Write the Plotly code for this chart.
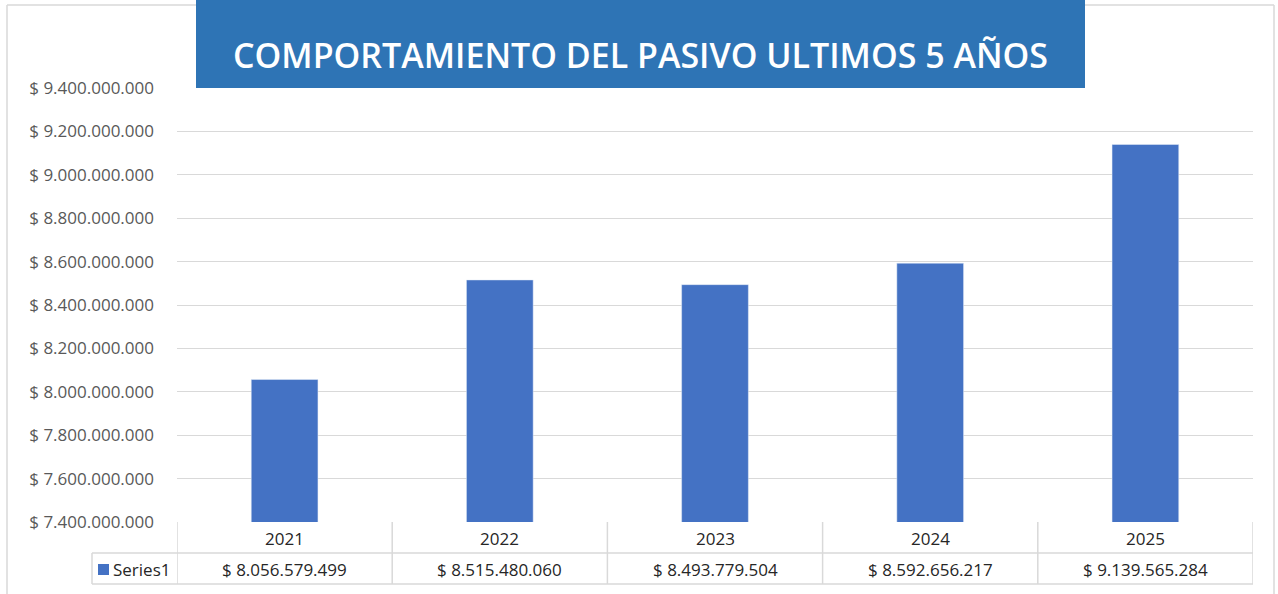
import plotly.graph_objects as go

# datos
years = ["2021", "2022", "2023", "2024", "2025"]
pasivo = [8056579499, 8515480060, 8493779504, 8592656217, 9139565284]
serie = "Series1"
titulo = "COMPORTAMIENTO DEL PASIVO ULTIMOS 5 AÑOS"
y_ticks = [7400000000, 7600000000, 7800000000, 8000000000, 8200000000, 8400000000,
           8600000000, 8800000000, 9000000000, 9200000000, 9400000000]


def pesos(v):
    return "$ " + f"{v:,}".replace(",", ".")


W, H = 1278, 594
L, R, T, B = 177, 25, 88, 72
PW, PH = W - L - R, H - T - B

def px(p):  # pixel x -> paper
    return (p - L) / PW

def py(p):  # pixel y -> paper
    return (H - B - p) / PH

BLUE = "#4472C4"
GRID = "#D9D9D9"
TXT = "#262626"
FS = 17

fig = go.Figure(go.Bar(x=years, y=pasivo, name=serie, marker_color=BLUE,
                       width=0.31, showlegend=False))

shapes = []
annots = []

# marco exterior
for x0, y0, x1, y1 in [(7, 5, 7, 594), (7, 5, 1274, 5), (1274, 5, 1274, 594)]:
    shapes.append(dict(type="line", xref="paper", yref="paper", x0=px(x0), x1=px(x1),
                       y0=py(y0), y1=py(y1), line=dict(color=GRID, width=1.5)))

# caja del titulo
shapes.append(dict(type="rect", xref="paper", yref="paper", x0=px(196), x1=px(1085),
                   y0=py(88), y1=py(-2), fillcolor="#2E74B5", line_width=0, layer="above"))
annots.append(dict(text=titulo, xref="paper", yref="paper", x=px(640.5), y=py(55),
                   showarrow=False,
                   font=dict(family="Open Sans", size=34, color="white", weight=600),
                   xanchor="center", yanchor="middle"))

# tabla de datos
n = len(years)
r0, r1, r2 = 522, 553, 584
for i in range(n + 1):
    shapes.append(dict(type="line", xref="x", yref="paper", x0=i - 0.5, x1=i - 0.5,
                       y0=py(r0), y1=py(r2), line=dict(color=GRID, width=1.5)))
for r in (r1, r2):
    shapes.append(dict(type="line", xref="paper", yref="paper", x0=px(92), x1=1,
                       y0=py(r), y1=py(r), line=dict(color=GRID, width=1.5)))
shapes.append(dict(type="line", xref="paper", yref="paper", x0=px(92), x1=px(92),
                   y0=py(r1), y1=py(r2), line=dict(color=GRID, width=1.5)))
# clave de la serie
shapes.append(dict(type="rect", xref="paper", yref="paper", x0=px(98), x1=px(109),
                   y0=py(575), y1=py(564), fillcolor=BLUE, line_width=0))
annots.append(dict(text=serie, xref="paper", yref="paper", x=px(111), y=py(569),
                   showarrow=False, xanchor="left", yanchor="middle",
                   font=dict(size=FS, color=TXT)))

for i, (yr, v) in enumerate(zip(years, pasivo)):
    annots.append(dict(text=yr, xref="x", yref="paper", x=i, y=py(538),
                       showarrow=False, yanchor="middle", font=dict(size=FS, color=TXT)))
    annots.append(dict(text=pesos(v), xref="x", yref="paper", x=i, y=py(569),
                       showarrow=False, yanchor="middle", font=dict(size=FS, color=TXT)))

fig.update_layout(
    width=W, height=H,
    margin=dict(l=L, r=R, t=T, b=B, pad=0),
    paper_bgcolor="white", plot_bgcolor="white",
    font=dict(family="Open Sans", color="#595959"),
    shapes=shapes, annotations=annots,
    xaxis=dict(type="category", range=[-0.5, n - 0.5], showticklabels=False,
               showgrid=False, zeroline=False, fixedrange=True),
    yaxis=dict(range=[y_ticks[0], y_ticks[-1]], tickvals=y_ticks,
               ticktext=[pesos(t) for t in y_ticks], tickfont=dict(size=FS, color="#595959"),
               showgrid=True, gridcolor=GRID, gridwidth=1, zeroline=False,
               ticklabelstandoff=22, fixedrange=True),
)

# quitar el margen del body para que la figura empiece en (0, 0)
fig.write_html("out.html", config={"displayModeBar": False},
               post_script="document.body.style.margin='0';")
